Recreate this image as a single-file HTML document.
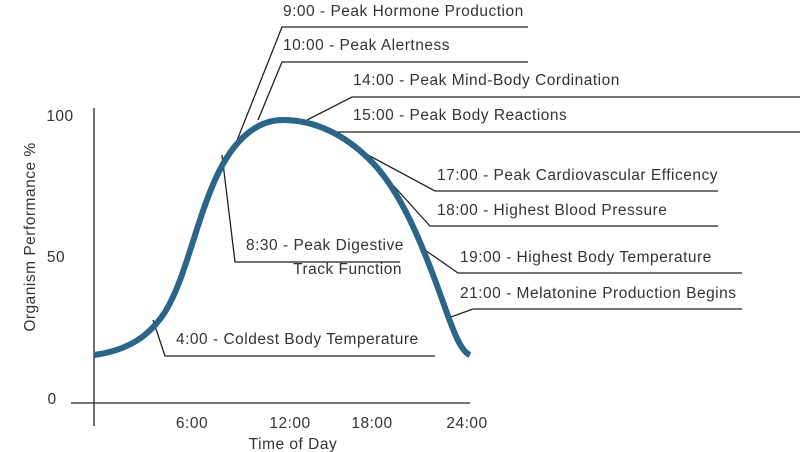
<!DOCTYPE html>
<html><head><style>body{margin:0;background:#fff}svg{display:block}text{font-family:"Liberation Sans",sans-serif;fill:#333;font-size:15.5px;letter-spacing:0.5px}</style></head>
<body>
<svg width="800" height="452" viewBox="0 0 800 452">
<g stroke="#222" stroke-width="1.3" fill="none">
<line x1="94" y1="108" x2="94" y2="426"/>
<line x1="71" y1="403" x2="470" y2="403"/>
<polyline points="236,143 282,27 528,27"/>
<polyline points="258,120 282,62 528,62"/>
<polyline points="307,120 352,97 800,97"/>
<polyline points="330,132 800,132"/>
<polyline points="355,148 435,191 718,191"/>
<polyline points="372,162 430,226 718,226"/>
<polyline points="425,250 458,273 742,273"/>
<polyline points="448,318 473,309 742,309"/>
<polyline points="222,155 235,262 400,262"/>
<polyline points="153,320 165,356 435,356"/>
</g>
<path d="M94,355 C130,350 150,335 165,312 C185,280 195,225 215,180 C235,135 260,120 283,120 C315,120 345,135 370,160 C400,190 420,240 435,280 C450,320 458,350 470,355" stroke="#2b6689" stroke-width="6" fill="none"/>
<text x="283" y="16">9:00 - Peak Hormone Production</text>
<text x="283" y="50">10:00 - Peak Alertness</text>
<text x="353" y="85">14:00 - Peak Mind-Body Cordination</text>
<text x="353" y="120">15:00 - Peak Body Reactions</text>
<text x="437" y="180">17:00 - Peak Cardiovascular Efficency</text>
<text x="437" y="215">18:00 - Highest Blood Pressure</text>
<text x="460" y="262">19:00 - Highest Body Temperature</text>
<text x="460" y="298">21:00 - Melatonine Production Begins</text>
<text x="246" y="250">8:30 - Peak Digestive</text>
<text x="402" y="274" text-anchor="end">Track Function</text>
<text x="176" y="344">4:00 - Coldest Body Temperature</text>
<text x="60" y="121" text-anchor="middle">100</text>
<text x="56" y="262" text-anchor="middle">50</text>
<text x="52" y="404" text-anchor="middle">0</text>
<text x="192" y="428" text-anchor="middle">6:00</text>
<text x="290" y="428" text-anchor="middle">12:00</text>
<text x="372" y="428" text-anchor="middle">18:00</text>
<text x="467" y="428" text-anchor="middle">24:00</text>
<text x="293" y="449" text-anchor="middle">Time of Day</text>
<text transform="translate(35,237) rotate(-90)" text-anchor="middle">Organism Performance %</text>
</svg>
</body></html>
